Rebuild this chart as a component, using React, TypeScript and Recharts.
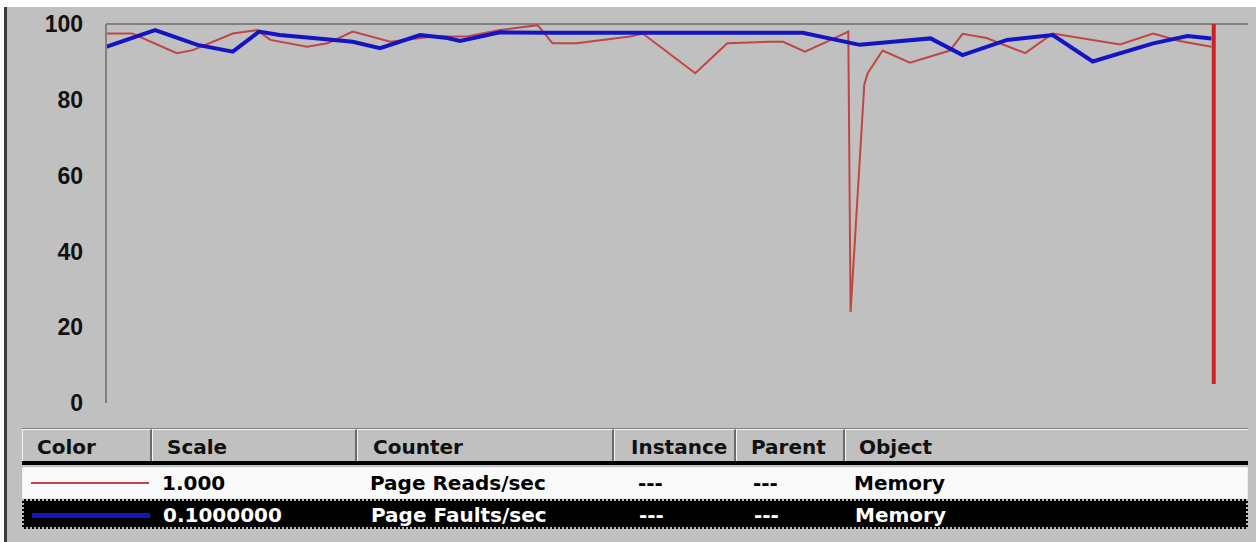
import React from 'react'
import { LineChart, Line, XAxis, YAxis, ReferenceLine } from 'recharts'

// time axis is in perfmon samples (100 across the graph)
const readTimes = [0, 2.3, 6.2, 7.6, 11.1, 13.2, 14.4, 17.6, 19.4, 21.6, 24.9, 28.6, 31.6, 34.5, 37.8, 39.1, 41.2, 45.9, 47.0, 51.6, 54.4, 58.1, 59.3, 61.2, 63.1, 65.0, 65.2, 66.4, 66.7, 68.0, 70.4, 73.9, 75.0, 77.1, 80.5, 82.9, 88.8, 91.7, 94.0, 96.8]
const readValues = [97.5, 97.5, 92.3, 93.1, 97.5, 98.4, 95.8, 94.0, 94.9, 98.0, 95.3, 96.7, 96.7, 98.4, 99.7, 94.9, 94.9, 96.7, 97.5, 87.0, 94.9, 95.3, 95.3, 92.7, 95.3, 98.0, 24.0, 84.0, 87.0, 93.0, 89.8, 93.0, 97.4, 96.3, 92.3, 97.5, 94.6, 97.5, 95.5, 94.0]

const faultTimes = [0, 4.3, 8.0, 11.1, 13.4, 15.2, 18.1, 21.6, 24.0, 27.5, 29.9, 31.0, 34.5, 38.9, 61.0, 66.0, 68.9, 72.2, 75.0, 78.9, 82.9, 86.4, 91.7, 94.7, 96.8]
const faultValues = [94.0, 98.4, 94.5, 92.7, 98.0, 97.1, 96.3, 95.3, 93.6, 97.1, 96.3, 95.5, 97.8, 97.7, 97.7, 94.5, 95.3, 96.2, 91.8, 95.8, 97.1, 90.1, 94.9, 96.8, 96.2]

const yTicks = [0, 20, 40, 60, 80, 100]
const timeBarAt = 97
const timeBarTop = 100
const timeBarBottom = 5

const readsData = readTimes.map((t, i) => ({ t, v: readValues[i] }))
const faultsData = faultTimes.map((t, i) => ({ t, v: faultValues[i] }))

const headers = ['Color', 'Scale', 'Counter', 'Instance', 'Parent', 'Object']
const colEdges = [22, 152, 357, 614, 736, 845, 1248]
const headerPad = [14, 14, 15, 16, 14, 13]
const cellPad = [0, 9, 12, 23, 16, 8]

const legendRows = [
  { color: '#c04545', thick: 2, cells: ['1.000', 'Page Reads/sec', '---', '---', 'Memory'], selected: false },
  { color: '#1414c4', thick: 5, cells: ['0.1000000', 'Page Faults/sec', '---', '---', 'Memory'], selected: true }
]

const tableFont: React.CSSProperties = {
  fontFamily: '"DejaVu Sans", sans-serif',
  fontWeight: 700,
  fontSize: 20,
  lineHeight: 1,
  position: 'absolute',
  whiteSpace: 'nowrap'
}

const App: React.FC = () => {
  return (
    <div style={{ position: 'absolute', left: 0, top: 0, width: 1256, height: 542, background: '#fff', overflow: 'hidden' }}>
      {/* window panel */}
      <div style={{ position: 'absolute', left: 4, top: 7, width: 1252, height: 535, background: '#c0c0c0', borderLeft: '3px solid #3a3a3a', boxSizing: 'border-box' }} />

      {/* Graph */}
      <div style={{ position: 'absolute', left: 0, top: 0 }}>
        <LineChart width={1256} height={425} margin={{ top: 24, right: 8, bottom: 22, left: 0 }}>
          <XAxis type="number" dataKey="t" domain={[0, 100]} hide allowDataOverflow />
          <YAxis
            type="number"
            domain={[0, 100]}
            ticks={yTicks}
            interval={0}
            width={106}
            axisLine={{ stroke: '#808080', strokeWidth: 2 }}
            tickLine={false}
            tickSize={6}
            tickMargin={17}
            tick={{ fill: '#111', fontSize: 23, fontWeight: 700, fontFamily: '"Liberation Sans", Arial, sans-serif' }}
          />
          <ReferenceLine y={100} stroke="#808080" strokeWidth={2} />
          <Line
            data={readsData}
            dataKey="v"
            type="linear"
            stroke="#c04545"
            strokeWidth={2}
            dot={false}
            isAnimationActive={false}
          />
          <Line
            data={faultsData}
            dataKey="v"
            type="linear"
            stroke="#1414c4"
            strokeWidth={4}
            dot={false}
            isAnimationActive={false}
          />
          <ReferenceLine
            segment={[{ x: timeBarAt, y: timeBarTop }, { x: timeBarAt, y: timeBarBottom }]}
            stroke="#cc2222"
            strokeWidth={4}
          />
        </LineChart>
      </div>

      {/* Legend table header */}
      <div style={{ position: 'absolute', left: colEdges[0], top: 428, width: colEdges[6] - colEdges[0], height: 33, borderTop: '1px solid #808080', boxSizing: 'border-box' }} />
      {headers.map((h, i) => (
        <div
          key={h}
          style={{
            position: 'absolute',
            left: colEdges[i],
            top: 429,
            width: colEdges[i + 1] - colEdges[i],
            height: 32,
            boxSizing: 'border-box',
            borderLeft: '1px solid #f4f4f4',
            borderTop: '1px solid #f4f4f4',
            borderRight: i < headers.length - 1 ? '2px solid #6a6a6a' : 'none'
          }}
        >
          <span style={{ ...tableFont, left: headerPad[i], top: 7, color: '#111' }}>{h}</span>
        </div>
      ))}
      <div style={{ position: 'absolute', left: colEdges[0], top: 461, width: colEdges[6] - colEdges[0], height: 4, background: '#000' }} />

      {/* Legend rows */}
      {legendRows.map((row, r) => {
        const top = r === 0 ? 467 : 499
        const h = r === 0 ? 32 : 30
        return (
          <div
            key={r}
            style={{
              position: 'absolute',
              left: colEdges[0],
              top,
              width: colEdges[6] - colEdges[0],
              height: h,
              background: row.selected ? '#000' : '#fafafa',
              border: row.selected ? '2px dotted #bbb' : '1px dotted #e4e4e4',
              boxSizing: 'border-box'
            }}
          >
            <div style={{ position: 'absolute', left: 8, width: 118, top: h / 2 - row.thick / 2 - 1, height: row.thick, background: row.color }} />
            {row.cells.map((c, j) => (
              <span
                key={j}
                style={{
                  ...tableFont,
                  left: colEdges[j + 1] - colEdges[0] + cellPad[j + 1],
                  top: h / 2 - 11,
                  color: row.selected ? '#fff' : '#000'
                }}
              >
                {c}
              </span>
            ))}
          </div>
        )
      })}
    </div>
  )
}

export default App
